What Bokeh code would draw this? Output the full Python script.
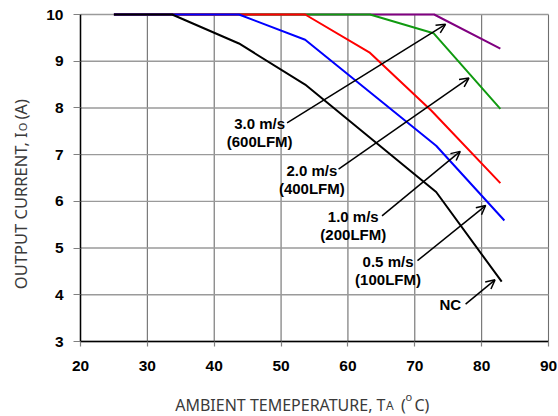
import math
from bokeh.plotting import figure
from bokeh.models import Range1d, FixedTicker, Label, Arrow, OpenHead, ColumnDataSource
from bokeh.core.properties import value
from bokeh.embed import file_html
from bokeh.resources import INLINE

# ---- data ----
x_min, x_max = 20, 90
y_min, y_max = 3, 10
x_ticks = [20, 30, 40, 50, 60, 70, 80, 90]
y_ticks = [3, 4, 5, 6, 7, 8, 9, 10]

purple_x = [25, 72.9, 82.8]
purple_y = [10, 10, 9.27]
green_x = [25, 63.3, 72.8, 82.8]
green_y = [10, 10, 9.6, 7.98]
red_x = [25, 53.6, 63.2, 72.5, 82.8]
red_y = [10, 10, 9.19, 7.94, 6.39]
blue_x = [25, 43.7, 53.6, 73.2, 83.4]
blue_y = [10, 10, 9.46, 7.19, 5.59]
black_x = [25, 33.7, 43.7, 53.6, 73.2, 83.0]
black_y = [10, 10, 9.38, 8.5, 6.2, 4.28]

label_texts = ["3.0 m/s", "(600LFM)", "2.0 m/s", "(400LFM)", "1.0 m/s", "(200LFM)",
               "0.5 m/s", "(100LFM)", "NC"]
label_x = [46.8, 46.8, 54.6, 54.6, 60.8, 60.8, 66.0, 66.0, 75.3]
label_y = [7.66, 7.28, 6.66, 6.27, 5.67, 5.29, 4.71, 4.32, 3.79]

arrow_x0 = [50.9, 58.6, 65.1, 70.4, 77.6]
arrow_y0 = [7.68, 6.69, 5.69, 4.73, 3.80]
arrow_x1 = [74.6, 78.1, 76.8, 80.6, 82.0]
arrow_y1 = [9.79, 8.64, 7.07, 5.91, 4.32]

# ---- figure: the frame spans the whole canvas, axes are pinned at the data edges ----
W, H = 558, 416
left_px, right_px, top_px, bottom_px = 80, 10, 14, 75
ux = (W - left_px - right_px) / (x_max - x_min)
uy = (H - top_px - bottom_px) / (y_max - y_min)
p = figure(width=W, height=H, output_backend="svg", toolbar_location=None,
           x_range=Range1d(x_min - left_px / ux, x_max + right_px / ux),
           y_range=Range1d(y_min - bottom_px / uy, y_max + top_px / uy),
           min_border=0)
p.background_fill_color = "white"
p.border_fill_color = "white"
p.outline_line_color = None
p.xgrid.visible = False
p.ygrid.visible = False

# grid (drawn from the tick lists, bounded to the data area)
p.segment(x0=x_ticks, y0=[y_min] * len(x_ticks), x1=x_ticks, y1=[y_max] * len(x_ticks),
          line_color="#6e6e6e", line_width=1.1)
p.segment(x0=[x_min] * len(y_ticks), y0=y_ticks, x1=[x_max] * len(y_ticks), y1=y_ticks,
          line_color="#9a9a9a", line_width=1.4)

p.xaxis.fixed_location = y_min
p.yaxis.fixed_location = x_min
p.xaxis.bounds = (x_min, x_max)
p.yaxis.bounds = (y_min, y_max)
for ax, ticks in ((p.xaxis, x_ticks), (p.yaxis, y_ticks)):
    ax.ticker = FixedTicker(ticks=ticks)
    ax.axis_line_color = "black"
    ax.axis_line_width = 1.5
    ax.major_tick_line_color = "#808080"
    ax.major_tick_line_width = 1.2
    ax.major_tick_in = 0
    ax.minor_tick_line_color = None
    ax.major_label_text_font = "Liberation Sans"
    ax.major_label_text_font_style = "bold"
    ax.major_label_text_font_size = "15.5px"
    ax.major_label_text_color = "black"
p.xaxis.major_tick_out = 5
p.xaxis.major_label_standoff = 14
p.yaxis.major_tick_out = 7
p.yaxis.major_label_standoff = 10

lw = 2
p.line(purple_x, purple_y, line_color="#800080", line_width=lw)
p.line(green_x, green_y, line_color="#109a10", line_width=lw)
p.line(red_x, red_y, line_color="#ff0000", line_width=lw)
p.line(blue_x, blue_y, line_color="#0000ff", line_width=lw)
p.line(black_x, black_y, line_color="black", line_width=lw)

for x0, y0, x1, y1 in zip(arrow_x0, arrow_y0, arrow_x1, arrow_y1):
    p.add_layout(Arrow(x_start=x0, y_start=y0, x_end=x1, y_end=y1,
                       line_color="black", line_width=1.5,
                       end=OpenHead(size=9, line_width=1.5, line_color="black")))

src = ColumnDataSource(dict(x=label_x, y=label_y, t=label_texts))
p.text("x", "y", text="t", source=src, text_font=value("Liberation Sans"),
       text_font_style="bold", text_font_size="15px", text_align="center",
       text_baseline="middle", text_color="black")

# ---- axis titles (with sub/superscripts) ----
tfont = "Noto Sans"
tcol = "#3a3a3a"
def lab(**kw):
    base = dict(text_baseline="alphabetic", text_font=tfont, text_color=tcol)
    base.update(kw)
    p.add_layout(Label(**base))

xb = 1.63
lab(x=65.62, y=xb, text="AMBIENT TEMEPERATURE, T", text_align="right", text_font_size="16px")
lab(x=65.69, y=xb, text="A", text_align="left", text_font_size="12px")
lab(x=67.95, y=xb, text="(", text_align="left", text_font_size="16px")
lab(x=68.6, y=xb + 0.2, text="o", text_align="left", text_font_size="11px")
lab(x=69.95, y=xb, text="C)", text_align="left", text_font_size="16px")

ang = math.pi / 2
yb = 11.05
lab(x=yb, y=7.478, text="OUTPUT CURRENT, I", text_align="right", angle=ang, text_font_size="16.5px")
lab(x=yb + 0.2, y=7.50, text="O", text_align="left", angle=ang, text_font_size="11px")
lab(x=yb, y=7.75, text="(A)", text_align="left", angle=ang, text_font_size="16.5px")

open("out.html", "w").write(file_html(p, INLINE))
